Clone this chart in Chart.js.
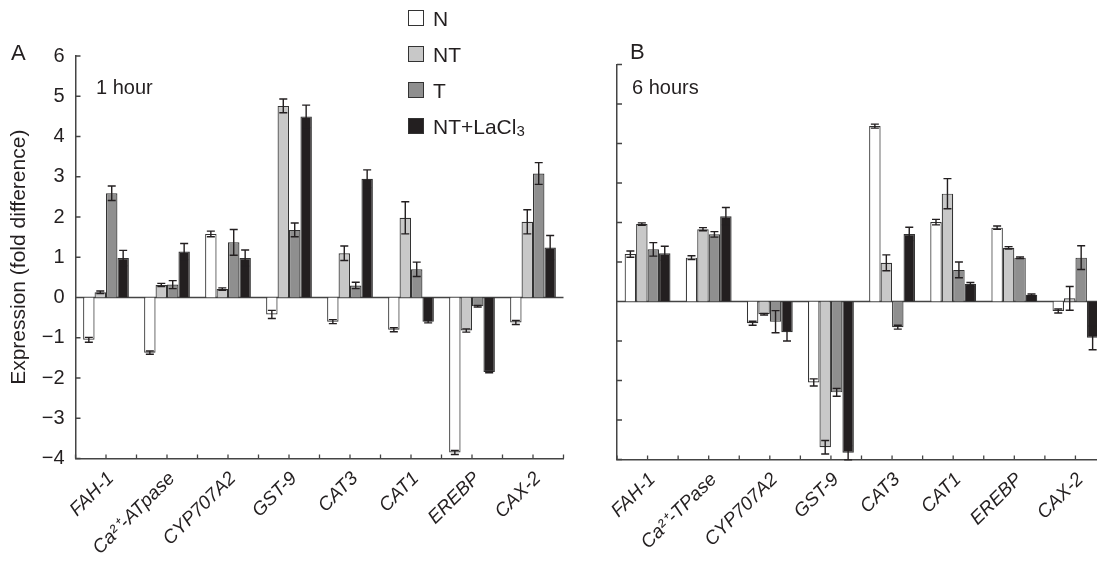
<!DOCTYPE html>
<html>
<head>
<meta charset="utf-8">
<script src="https://cdn.jsdelivr.net/npm/chart.js@4.4.1/dist/chart.umd.min.js"></script>
<style>
  html, body { margin: 0; padding: 0; background: #fff; }
  body {
    width: 1097px;
    height: 586px;
    overflow: hidden;
    position: relative;
    font-family: "Liberation Sans", Arial, sans-serif;
    color: #231f20;
  }
  canvas { position: absolute; top: 0; }
  #chart-1h { left: 0; }
  #chart-6h { left: 560px; }
  #legend { position: absolute; left: 408px; top: 0; }
  .legend-row { display: flex; align-items: center; height: 36px; font-size: 21px; line-height: 21px; }
  .legend-box { width: 16px; height: 16px; border: 1px solid #333; margin-right: 9px; box-sizing: border-box; }
  .legend-row sub { font-size: 15px; line-height: 0; position: relative; top: 5px; vertical-align: baseline; }
</style>
</head>
<body>
<canvas id="chart-1h" width="580" height="586"></canvas>
<canvas id="chart-6h" width="560" height="586"></canvas>
<div id="legend"></div>
<script>
const FONT = '"Liberation Sans", Arial, sans-serif';
const INK = "#231f20";

// genes on the x axis (panel A says "ATpase", panel B "TPase")
const genes1h = ["FAH-1", "Ca²⁺-ATpase", "CYP707A2", "GST-9", "CAT3", "CAT1", "EREBP", "CAX-2"];
const genes6h = ["FAH-1", "Ca²⁺-TPase", "CYP707A2", "GST-9", "CAT3", "CAT1", "EREBP", "CAX-2"];

const seriesNames = ["N", "NT", "T", "NT+LaCl3"];
const seriesColors = ["#ffffff", "#c8c8c8", "#8f8f8f", "#231f20"];

const yTicks = [-4, -3, -2, -1, 0, 1, 2, 3, 4, 5, 6];

// 1 hour
const n1h = [-1.05, -1.37, 1.58, -0.42, -0.6, -0.8, -3.85, -0.62];
const nt1h = [0.13, 0.31, 0.21, 4.76, 1.1, 1.98, -0.82, 1.88];
const t1h = [2.59, 0.32, 1.37, 1.68, 0.3, 0.7, -0.22, 3.08];
const la1h = [0.98, 1.14, 0.98, 4.5, 2.95, -0.6, -1.85, 1.24];
const n1hErr = [0.06, 0.04, 0.07, 0.1, 0.05, 0.05, 0.05, 0.05];
const nt1hErr = [0.03, 0.04, 0.03, 0.17, 0.18, 0.4, 0.04, 0.3];
const t1hErr = [0.18, 0.1, 0.32, 0.17, 0.08, 0.18, 0.02, 0.27];
const la1hErr = [0.19, 0.2, 0.2, 0.28, 0.22, 0.03, 0.02, 0.3];

// 6 hours
const n6h = [1.2, 1.11, -0.55, -2.05, 4.44, 2.01, 1.87, -0.24];
const nt6h = [1.96, 1.83, -0.32, -3.69, 0.98, 2.73, 1.36, 0.08];
const t6h = [1.32, 1.7, -0.51, -2.3, -0.65, 0.8, 1.11, 1.11];
const la6h = [1.22, 2.16, -0.78, -3.83, 1.71, 0.44, 0.17, -0.92];
const n6hErr = [0.08, 0.05, 0.05, 0.09, 0.05, 0.07, 0.04, 0.05];
const nt6hErr = [0.03, 0.04, 0.02, 0.17, 0.2, 0.38, 0.03, 0.3];
const t6hErr = [0.17, 0.07, 0.28, 0.1, 0.05, 0.2, 0.02, 0.3];
const la6hErr = [0.18, 0.22, 0.22, 0.18, 0.17, 0.04, 0.02, 0.3];

// zero line + short inward tick marks on both axes
const axisMarks = {
  id: "axisMarks",
  beforeDatasetsDraw(chart) {
    const { ctx, chartArea, scales: { x, y } } = chart;
    ctx.save();
    ctx.strokeStyle = "#444";
    ctx.lineWidth = 1.3;
    ctx.beginPath();
    const y0 = y.getPixelForValue(0);
    ctx.moveTo(chartArea.left, y0);
    ctx.lineTo(chartArea.right, y0);
    yTicks.forEach((v) => {
      const py = y.getPixelForValue(v);
      ctx.moveTo(chartArea.left, py);
      ctx.lineTo(chartArea.left + 5, py);
    });
    // ticks at category edges and centres
    const count = x.ticks.length;
    for (let i = 0; i <= count * 2; i++) {
      const px = x.getPixelForValue(i / 2 - 0.5);
      ctx.moveTo(px, chartArea.bottom);
      ctx.lineTo(px, chartArea.bottom - 4);
    }
    ctx.stroke();
    ctx.restore();
  },
};

const errorBars = {
  id: "errorBars",
  afterDatasetsDraw(chart) {
    const { ctx, scales: { y } } = chart;
    ctx.save();
    ctx.strokeStyle = INK;
    ctx.lineWidth = 1.4;
    chart.data.datasets.forEach((ds, di) => {
      chart.getDatasetMeta(di).data.forEach((bar, i) => {
        const top = y.getPixelForValue(ds.data[i] + ds.errors[i]);
        const bot = y.getPixelForValue(ds.data[i] - ds.errors[i]);
        ctx.beginPath();
        ctx.moveTo(bar.x, top);
        ctx.lineTo(bar.x, bot);
        ctx.moveTo(bar.x - 4, top);
        ctx.lineTo(bar.x + 4, top);
        ctx.moveTo(bar.x - 4, bot);
        ctx.lineTo(bar.x + 4, bot);
        ctx.stroke();
      });
    });
    ctx.restore();
  },
};

const panelText = {
  id: "panelText",
  afterDraw(chart, args, opts) {
    const { ctx } = chart;
    ctx.save();
    ctx.fillStyle = INK;
    ctx.textBaseline = "alphabetic";
    ctx.textAlign = "left";
    ctx.font = `22px ${FONT}`;
    ctx.fillText(opts.letter, opts.letterX, opts.letterY);
    ctx.font = `20px ${FONT}`;
    ctx.fillText(opts.note, opts.noteX, opts.noteY);
    ctx.restore();
  },
};

function makeChart(canvasId, labels, values, errors, cfg) {
  const ctx = document.getElementById(canvasId).getContext("2d");
  return new Chart(ctx, {
    type: "bar",
    data: {
      labels,
      datasets: seriesNames.map((name, i) => ({
        label: name,
        data: values[i],
        errors: errors[i],
        backgroundColor: seriesColors[i],
        borderColor: "#333",
        borderWidth: 1.2,
        categoryPercentage: 0.75,
        barPercentage: 1,
      })),
    },
    options: {
      responsive: false,
      animation: false,
      layout: { padding: { top: cfg.top, right: cfg.right, left: 0, bottom: 0 } },
      plugins: {
        legend: { display: false },
        tooltip: { enabled: false },
        panelText: cfg.text,
      },
      scales: {
        x: {
          offset: true,
          grid: { display: false, drawTicks: false },
          border: { display: true, color: "#444", width: 1.5 },
          ticks: {
            autoSkip: false,
            minRotation: 45,
            maxRotation: 45,
            padding: 9,
            labelOffset: 5,
            color: INK,
            font: { family: FONT, size: 19, style: "italic" },
          },
          afterFit: (scale) => {
            scale.height = cfg.xHeight;
          },
        },
        y: {
          min: -4,
          max: 6,
          grid: { display: false, drawTicks: false },
          border: { display: true, color: "#444", width: 1.5 },
          ticks: {
            stepSize: 1,
            display: cfg.yLabels,
            padding: 11,
            color: INK,
            font: { family: FONT, size: 20 },
            callback: (v) => String(v).replace("-", "\u2212"),
          },
          title: {
            display: cfg.yLabels,
            text: "Expression (fold difference)",
            color: INK,
            font: { family: FONT, size: 21 },
            padding: { top: 7, bottom: 0 },
          },
          afterFit: (scale) => {
            scale.width = cfg.yWidth;
          },
        },
      },
    },
    plugins: [axisMarks, errorBars, panelText],
  });
}

function renderLegend() {
  const el = document.getElementById("legend");
  el.innerHTML = seriesNames
    .map((name, i) => {
      const text = name.replace(/(\d)$/, "<sub>$1</sub>");
      return `<div class="legend-row"><span class="legend-box" style="background:${seriesColors[i]}"></span>${text}</div>`;
    })
    .join("");
}

makeChart("chart-1h", genes1h, [n1h, nt1h, t1h, la1h], [n1hErr, nt1hErr, t1hErr, la1hErr], {
  top: 56,
  right: 16.5,
  yWidth: 75.5,
  xHeight: 127.5,
  yLabels: true,
  text: { letter: "A", letterX: 11, letterY: 60, note: "1 hour", noteX: 96, noteY: 94 },
});

makeChart("chart-6h", genes6h, [n6h, nt6h, t6h, la6h], [n6hErr, nt6hErr, t6hErr, la6hErr], {
  top: 64.5,
  right: 14,
  yWidth: 57,
  xHeight: 126.5,
  yLabels: false,
  text: { letter: "B", letterX: 70, letterY: 59, note: "6 hours", noteX: 72, noteY: 94 },
});

renderLegend();
</script>
</body>
</html>
